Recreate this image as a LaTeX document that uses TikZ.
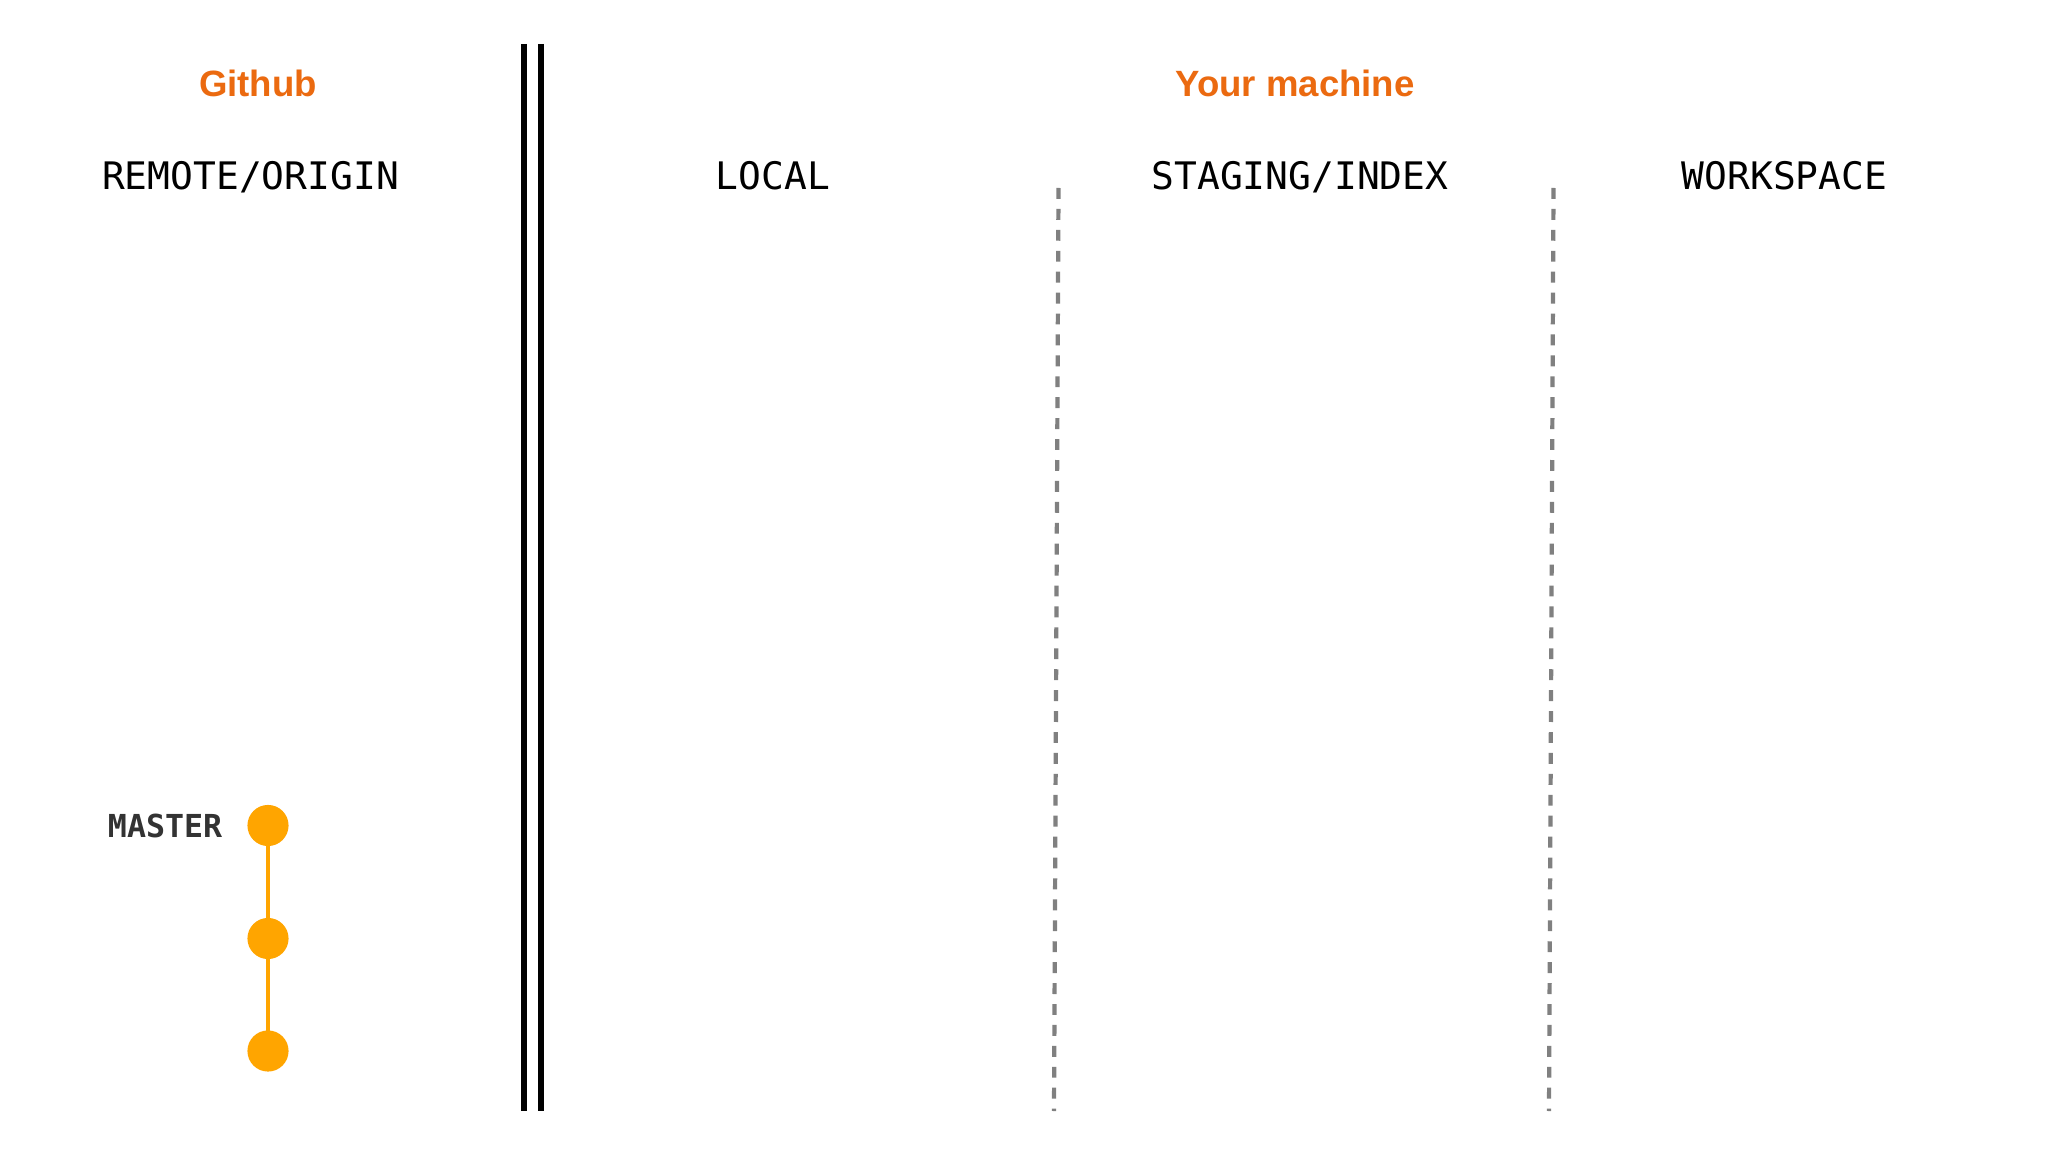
\documentclass[tikz,border=0pt]{standalone}
\usepackage{fontspec}
\setmainfont{Liberation Sans}
\setmonofont{DejaVu Sans Mono}
\definecolor{hdr}{HTML}{EB6A10}
\definecolor{commit}{HTML}{FFA500}
\definecolor{divgrey}{HTML}{808080}
\definecolor{lbl}{HTML}{333333}
\tikzset{
  header/.style={anchor=base, inner sep=0pt, text=hdr, font=\fontsize{10.4pt}{12pt}\selectfont\bfseries},
  zone/.style={anchor=base, inner sep=0pt, text=black, font=\fontsize{10.78pt}{12pt}\selectfont\ttfamily},
  branch/.style={anchor=base east, inner sep=0pt, text=lbl, font=\fontsize{9.0pt}{11pt}\selectfont\ttfamily\bfseries},
  commitdot/.style={circle, fill=commit, draw=none, minimum size=11.7pt, inner sep=0pt},
  history/.style={draw=commit, line width=1pt},
  wall/.style={draw=black, line width=1.55pt},
  divider/.style={draw=divgrey, line width=1.2pt, dash pattern=on 3.1pt off 2.85pt}
}
\begin{document}
\begin{tikzpicture}[x=0.01cm, y=-0.01cm]
\useasboundingbox[fill=white] (0,0) rectangle (2048,1152);

% headers
\node[header] (github) at (258,96.5) {Github};
\node[header] (machine) at (1295,96.5) {Your machine};

% zone titles
\node[zone] (remote) at (250.5,190) {REMOTE/ORIGIN};
\node[zone] (local) at (773,190) {LOCAL};
\node[zone] (staging) at (1300,190) {STAGING/INDEX};
\node[zone] (workspace) at (1784.5,190) {WORKSPACE};

% double wall
\coordinate (w1t) at (524,44);
\coordinate (w1b) at (524,1111);
\coordinate (w2t) at (541,44);
\coordinate (w2b) at (541,1111);
\draw[wall] (w1t) -- (w1b);
\draw[wall] (w2t) -- (w2b);

% dashed dividers
\coordinate (d1t) at (1058.5,188);
\coordinate (d1b) at (1054,1111);
\coordinate (d2t) at (1553.5,188);
\coordinate (d2b) at (1549,1111);
\draw[divider] (d1t) -- (d1b);
\draw[divider] (d2t) -- (d2b);

% commits
\draw[history] (268,825.5) coordinate (p1) -- (268,938.5) coordinate (p2) -- (268,1051) coordinate (p3);
\node[commitdot] (c1) at (p1) {};
\node[commitdot] (c2) at (p2) {};
\node[commitdot] (c3) at (p3) {};
\node[branch] (master) at (223,837) {MASTER};
\end{tikzpicture}
\end{document}
